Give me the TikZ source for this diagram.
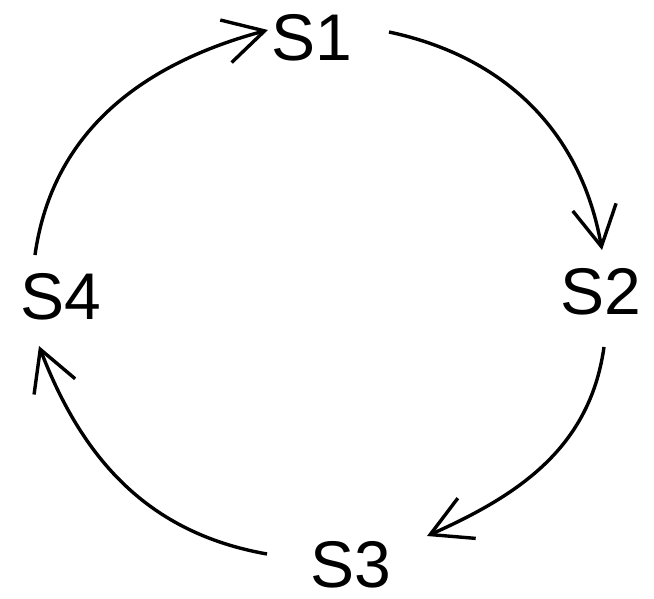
\documentclass[tikz,border=0pt]{standalone}
\usepackage{fontspec}
\setmainfont{Liberation Sans}
\usetikzlibrary{arrows.meta}

\begin{document}
\begin{tikzpicture}[x=1pt,y=1pt,
    state/.style={inner sep=0pt, font=\fontsize{66}{70}\selectfont},
    trans/.style={line width=3.4pt, -{Straight Barb[length=40pt,width=44pt]}}]
    % Frame
    \useasboundingbox (0,0) rectangle (654,598);

    % States
    \node[state] (S1) at (312,560) {S1};
    \node[state] (S2) at (601,306) {S2};
    \node[state] (S3) at (351,33) {S3};
    \node[state] (S4) at (61,301) {S4};

    % Transitions
    \draw[trans] ([shift={(77pt,6pt)}]S1.center) to[out=-12,in=100] ([shift={(1pt,42pt)}]S2.center);
    \draw[trans] ([shift={(3pt,-55pt)}]S2.center) to[out=-98,in=24] ([shift={(76pt,29pt)}]S3.center);
    \draw[trans] ([shift={(-84pt,11pt)}]S3.center) to[out=170,in=291] ([shift={(-22pt,-49pt)}]S4.center);
    \draw[trans] ([shift={(-26pt,42pt)}]S4.center) to[out=82,in=195] ([shift={(-44pt,8pt)}]S1.center);
\end{tikzpicture}
\end{document}
